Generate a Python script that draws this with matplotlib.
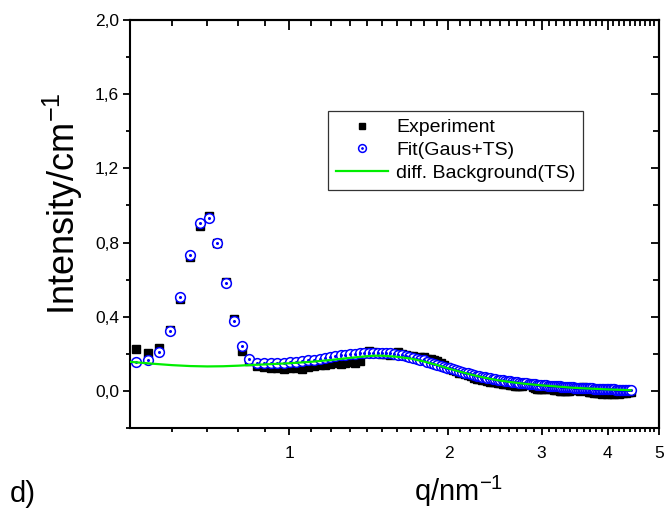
import numpy as np
import matplotlib.pyplot as plt
from matplotlib.ticker import FixedLocator, NullFormatter
from matplotlib.legend_handler import HandlerTuple

plt.rcParams['font.family'] = ['Liberation Sans', 'DejaVu Sans']
plt.rcParams['mathtext.default'] = 'regular'

# q grid (nm^-1), shared by experiment and fit
q = [0.513, 0.540, 0.568, 0.595, 0.622, 0.650, 0.677, 0.704, 0.731, 0.759,
     0.786, 0.813, 0.841, 0.868, 0.895, 0.923, 0.950, 0.977, 1.004, 1.032,
     1.059, 1.086, 1.114, 1.141, 1.168, 1.196, 1.223, 1.250, 1.277, 1.305,
     1.332, 1.359, 1.387, 1.414, 1.441, 1.469, 1.496, 1.523, 1.550, 1.578,
     1.605, 1.632, 1.660, 1.687, 1.714, 1.742, 1.769, 1.796, 1.823, 1.851,
     1.878, 1.905, 1.933, 1.960, 1.987, 2.015, 2.042, 2.069, 2.096, 2.124,
     2.151, 2.178, 2.206, 2.233, 2.260, 2.288, 2.315, 2.342, 2.369, 2.397,
     2.424, 2.451, 2.479, 2.506, 2.533, 2.561, 2.588, 2.615, 2.642, 2.670,
     2.697, 2.724, 2.752, 2.779, 2.806, 2.834, 2.861, 2.888, 2.915, 2.943,
     2.970, 2.997, 3.025, 3.052, 3.079, 3.107, 3.134, 3.161, 3.188, 3.216,
     3.243, 3.270, 3.298, 3.325, 3.352, 3.380, 3.407, 3.434, 3.461, 3.489,
     3.516, 3.543, 3.571, 3.598, 3.625, 3.653, 3.680, 3.707, 3.734, 3.762,
     3.789, 3.816, 3.844, 3.871, 3.898, 3.926, 3.953, 3.980, 4.007, 4.035,
     4.062, 4.089, 4.117, 4.144, 4.171, 4.199, 4.226, 4.253, 4.280, 4.308,
     4.335, 4.362, 4.390, 4.417]

experiment = [0.227, 0.205, 0.232, 0.330, 0.497, 0.724, 0.888, 0.942, 0.798, 0.587,
              0.387, 0.216, 0.162, 0.135, 0.128, 0.122, 0.125, 0.120, 0.122, 0.126,
              0.118, 0.130, 0.134, 0.138, 0.140, 0.144, 0.148, 0.146, 0.152, 0.157,
              0.150, 0.162, 0.205, 0.215, 0.212, 0.205, 0.200, 0.198, 0.196, 0.204,
              0.210, 0.200, 0.195, 0.190, 0.186, 0.180, 0.182, 0.185, 0.172, 0.170,
              0.168, 0.160, 0.150, 0.138, 0.128, 0.118, 0.112, 0.105, 0.098, 0.094,
              0.090, 0.085, 0.080, 0.072, 0.066, 0.062, 0.060, 0.058, 0.052, 0.048,
              0.050, 0.046, 0.042, 0.040, 0.036, 0.035, 0.038, 0.034, 0.030, 0.028,
              0.026, 0.024, 0.028, 0.035, 0.042, 0.038, 0.030, 0.022, 0.015, 0.010,
              0.012, 0.008, 0.010, 0.014, 0.012, 0.016, 0.010, 0.006, 0.004, 0.008,
              0.002, 0.000, 0.004, 0.002, -0.002, 0.000, 0.004, 0.010, 0.012, 0.008,
              0.004, 0.000, 0.012, 0.020, 0.018, 0.006, -0.004, -0.008, -0.006, -0.010,
              -0.008, -0.012, -0.010, -0.006, -0.014, -0.012, -0.010, -0.016, -0.012, -0.008,
              -0.014, -0.010, -0.016, -0.012, -0.008, -0.014, -0.010, -0.006, -0.012, -0.008,
              -0.010, -0.006, -0.004, -0.008]

fit = [0.157, 0.168, 0.212, 0.324, 0.508, 0.731, 0.904, 0.931, 0.800, 0.582,
       0.377, 0.240, 0.173, 0.152, 0.148, 0.149, 0.150, 0.152, 0.154, 0.157,
       0.160, 0.164, 0.168, 0.172, 0.177, 0.182, 0.187, 0.191, 0.195, 0.198,
       0.201, 0.203, 0.205, 0.206, 0.207, 0.207, 0.206, 0.204, 0.202, 0.199,
       0.196, 0.192, 0.188, 0.184, 0.179, 0.174, 0.169, 0.164, 0.158, 0.153,
       0.147, 0.142, 0.136, 0.131, 0.126, 0.121, 0.116, 0.111, 0.106, 0.102,
       0.098, 0.094, 0.090, 0.086, 0.083, 0.080, 0.077, 0.074, 0.071, 0.068,
       0.066, 0.063, 0.061, 0.059, 0.057, 0.055, 0.053, 0.051, 0.049, 0.048,
       0.046, 0.045, 0.043, 0.042, 0.040, 0.039, 0.038, 0.037, 0.035, 0.034,
       0.033, 0.032, 0.031, 0.030, 0.029, 0.028, 0.027, 0.026, 0.025, 0.025,
       0.024, 0.023, 0.022, 0.021, 0.021, 0.020, 0.019, 0.019, 0.018, 0.017,
       0.017, 0.016, 0.016, 0.015, 0.015, 0.014, 0.014, 0.013, 0.013, 0.012,
       0.012, 0.011, 0.011, 0.011, 0.010, 0.010, 0.010, 0.009, 0.009, 0.009,
       0.008, 0.008, 0.008, 0.007, 0.007, 0.007, 0.007, 0.006, 0.006, 0.006,
       0.006, 0.005, 0.005, 0.005]

# diffuse background (TS), smooth curve
q_bg = [0.50, 0.55, 0.60, 0.65, 0.70, 0.75, 0.80, 0.85, 0.90, 1.00,
        1.10, 1.20, 1.30, 1.40, 1.45, 1.50, 1.60, 1.70, 1.80, 1.90,
        2.00, 2.10, 2.20, 2.30, 2.40, 2.50, 2.60, 2.70, 2.80, 3.00,
        3.20, 3.40, 3.60, 3.80, 4.00, 4.20, 4.42]
background = [0.157, 0.147, 0.139, 0.134, 0.132, 0.133, 0.136, 0.140, 0.143, 0.149,
              0.157, 0.167, 0.178, 0.187, 0.190, 0.190, 0.184, 0.174, 0.158, 0.140,
              0.121, 0.104, 0.089, 0.076, 0.065, 0.056, 0.049, 0.043, 0.038, 0.030,
              0.024, 0.018, 0.014, 0.011, 0.008, 0.006, 0.004]

x_major = [1, 2, 3, 4, 5]
x_major_labels = ['1', '2', '3', '4', '5']
y_major = [0.0, 0.4, 0.8, 1.2, 1.6, 2.0]
y_major_labels = ['0,0', '0,4', '0,8', '1,2', '1,6', '2,0']

fig = plt.figure(figsize=(6.69, 5.19), dpi=100)
ax = fig.add_axes([130/669, 1 - 428/519, 529/669, 408/519])

sq, = ax.plot(q, experiment, linestyle='none', marker='s', ms=6,
              color='black', zorder=2)
circ, = ax.plot(q, fit, linestyle='none', marker='o', ms=7, mfc='white',
                mec='#0000ff', mew=1.1, zorder=3)
dot, = ax.plot(q, fit, linestyle='none', marker='o', ms=1.2,
               color='#0000ff', zorder=4)
bg, = ax.plot(q_bg, background, color='#00ee00', lw=1.6, zorder=5)

ax.set_xscale('log')
ax.set_xlim(0.5, 5)
ax.set_ylim(-0.2, 2.0)

minor_x = np.arange(0.6, 5.0, 0.1)
ax.xaxis.set_major_locator(FixedLocator(x_major))
ax.set_xticklabels(x_major_labels)
ax.xaxis.set_minor_locator(FixedLocator(minor_x))
ax.xaxis.set_minor_formatter(NullFormatter())
ax.set_yticks(y_major)
ax.set_yticklabels(y_major_labels)
ax.set_yticks(np.arange(-0.2, 2.0, 0.4), minor=True)

for s in ax.spines.values():
    s.set_linewidth(1.5)

ax.tick_params(which='both', labelsize=12.5, width=1.3)
ax.tick_params(axis='x', which='both', direction='out', pad=8)
ax.tick_params(axis='y', which='both', direction='out', pad=3)
ax.tick_params(which='major', length=5)
ax.tick_params(which='minor', length=3)

# mirrored inner ticks on top and right
top = ax.secondary_xaxis('top')
top.xaxis.set_major_locator(FixedLocator(x_major))
top.xaxis.set_minor_locator(FixedLocator(minor_x))
top.xaxis.set_minor_formatter(NullFormatter())
top.tick_params(which='both', direction='in', labeltop=False, width=1.3)
top.tick_params(which='major', length=7)
top.tick_params(which='minor', length=4)
top.spines['top'].set_linewidth(1.5)
right = ax.secondary_yaxis('right')
right.set_yticks(y_major)
right.set_yticks(np.arange(-0.2, 2.0, 0.4), minor=True)
right.tick_params(which='both', direction='in', labelright=False, width=1.3)
right.tick_params(which='major', length=6)
right.tick_params(which='minor', length=4)
right.spines['right'].set_linewidth(1.5)

ax.set_xlabel(r'q/nm$^{-1}$', fontsize=21)
ax.xaxis.set_label_coords(0.622, -0.113)
ax.set_ylabel(r'Intensity/cm$^{-1}$', fontsize=26)
ax.yaxis.set_label_coords(-0.085, 0.55)
fig.text(10/669, 1 - 502/519, 'd)', fontsize=21)

leg = ax.legend([sq, (circ, dot), bg],
                ['Experiment', 'Fit(Gaus+TS)', 'diff. Background(TS)'],
                handler_map={tuple: HandlerTuple(ndivide=1)},
                loc='upper left', bbox_to_anchor=(328/669, 1 - 111/519),
                bbox_transform=fig.transFigure, borderaxespad=0,
                fontsize=14, frameon=True, fancybox=False, edgecolor='black',
                handlelength=2.7, handletextpad=0.4, labelspacing=0.27,
                borderpad=0.4, markerscale=0.8)
leg.get_frame().set_linewidth(0.9)

fig.savefig('out.png', dpi=100)
